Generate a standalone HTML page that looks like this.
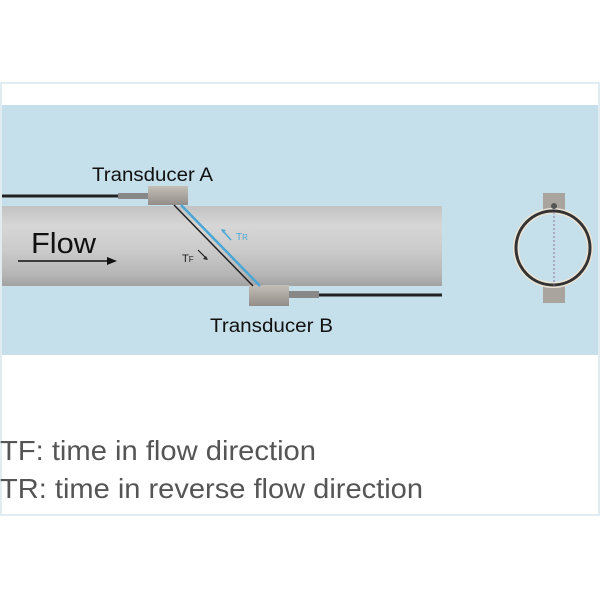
<!DOCTYPE html>
<html><head><meta charset="utf-8"><style>body{margin:0;background:#fff}</style></head><body>
<svg width="600" height="600" xmlns="http://www.w3.org/2000/svg" font-family="Liberation Sans, sans-serif">
<defs>
<linearGradient id="pipe" x1="0" y1="0" x2="0" y2="1">
<stop offset="0" stop-color="#c2c2c2"/><stop offset="0.25" stop-color="#d6d6d6"/><stop offset="0.55" stop-color="#cbcbcb"/><stop offset="0.85" stop-color="#b6b6b6"/><stop offset="1" stop-color="#a2a2a2"/>
</linearGradient>
<linearGradient id="box" x1="0" y1="0" x2="0" y2="1"><stop offset="0" stop-color="#c4beb7"/><stop offset="1" stop-color="#928d88"/></linearGradient>
</defs>
<rect x="1" y="83" width="598" height="432" fill="#fff" stroke="#d6e6ec" stroke-width="1.5"/>
<rect x="2" y="105" width="596" height="250" fill="#c5e0ea"/>
<rect x="2" y="206" width="440" height="80" fill="url(#pipe)"/>
<line x1="2" y1="196" x2="118" y2="196" stroke="#222" stroke-width="3"/>
<rect x="118" y="193" width="30" height="6" fill="#888"/>
<path d="M148 186 H188 V205 H148 Z" fill="url(#box)"/>
<rect x="289" y="291" width="30" height="7" fill="#888"/>
<line x1="319" y1="295" x2="442" y2="295" stroke="#222" stroke-width="3"/>
<path d="M249 285 H289 V306 H249 Z" fill="url(#box)"/>
<line x1="174" y1="205" x2="253" y2="286" stroke="#222" stroke-width="1.5"/>
<line x1="181" y1="205" x2="260" y2="286" stroke="#4aa6d4" stroke-width="2.5"/>
<line x1="198" y1="250" x2="206" y2="258" stroke="#222" stroke-width="1.2"/>
<path d="M208 260 l-5 -1 l3 -3z" fill="#222"/>
<line x1="231" y1="240" x2="223" y2="231" stroke="#4aa6d4" stroke-width="1.5"/>
<path d="M221 229 l5 1 l-3 3z" fill="#4aa6d4"/>
<text x="182" y="262" font-size="11" fill="#222">T<tspan font-size="8">F</tspan></text>
<text x="236" y="240" font-size="10" fill="#4aa6d4">T<tspan font-size="8">R</tspan></text>
<text x="31" y="253" font-size="29" fill="#111" textLength="65" lengthAdjust="spacingAndGlyphs">Flow</text>
<line x1="18" y1="261" x2="110" y2="261" stroke="#111" stroke-width="1.5"/>
<path d="M117 261 l-10 -4 v8z" fill="#111"/>
<text x="92" y="181" font-size="19" fill="#111" textLength="121" lengthAdjust="spacingAndGlyphs">Transducer A</text>
<text x="210" y="332" font-size="19" fill="#111" textLength="123" lengthAdjust="spacingAndGlyphs">Transducer B</text>
<rect x="543" y="193" width="22" height="110" fill="#a9a49e"/>
<circle cx="553" cy="248" r="37" fill="#c5e0ea" stroke="#ece4d6" stroke-width="6"/>
<circle cx="553" cy="248" r="37" fill="none" stroke="#333" stroke-width="3"/>
<line x1="554" y1="208" x2="554" y2="287" stroke="#8a6fa8" stroke-width="1" stroke-dasharray="2,2"/>
<circle cx="554" cy="206" r="3" fill="#555"/>
<text x="0" y="460" font-size="28" fill="#555" textLength="316" lengthAdjust="spacingAndGlyphs">TF: time in flow direction</text>
<text x="0" y="498" font-size="28" fill="#555" textLength="423" lengthAdjust="spacingAndGlyphs">TR: time in reverse flow direction</text>
</svg>
</body></html>
